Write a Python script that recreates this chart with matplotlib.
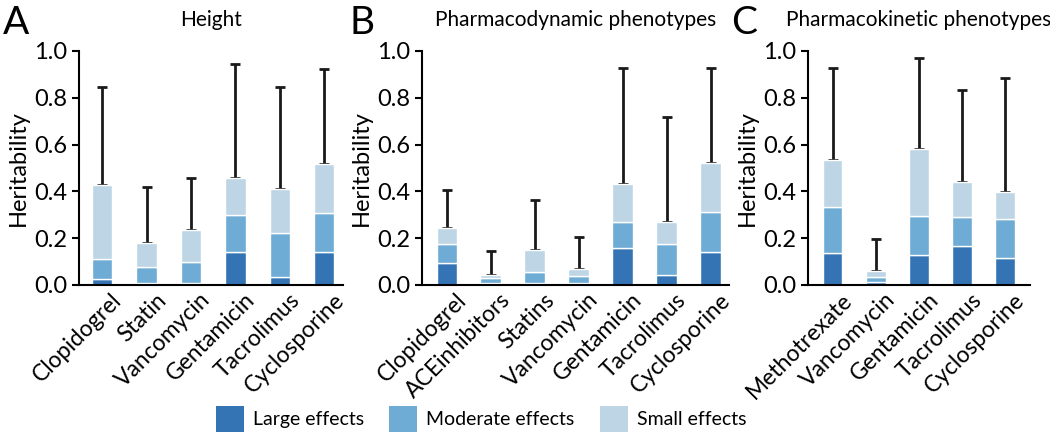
# Stacked heritability bars (large / moderate / small effects) for three panels.
import matplotlib.pyplot as plt
import matplotlib.transforms as mtransforms
from matplotlib.patches import Patch
import numpy as np

plt.rcParams['font.family'] = ['Lato', 'DejaVu Sans']

# Panel A: Height
drugs_a = ["Clopidogrel", "Statin", "Vancomycin", "Gentamicin", "Tacrolimus", "Cyclosporine"]
large_a = [0.024, 0.007, 0.007, 0.142, 0.036, 0.140]
moderate_a = [0.113, 0.078, 0.097, 0.299, 0.221, 0.308]   # cumulative top
small_a = [0.427, 0.178, 0.235, 0.459, 0.410, 0.517]      # cumulative top
upper_a = [0.848, 0.417, 0.456, 0.943, 0.846, 0.922]

# Panel B: Pharmacodynamic phenotypes
drugs_b = ["Clopidogrel", "ACEinhibitors", "Statins", "Vancomycin", "Gentamicin", "Tacrolimus", "Cyclosporine"]
large_b = [0.092, 0.010, 0.010, 0.010, 0.156, 0.041, 0.142]
moderate_b = [0.174, 0.028, 0.054, 0.038, 0.271, 0.177, 0.310]
small_b = [0.244, 0.043, 0.149, 0.070, 0.430, 0.271, 0.520]
upper_b = [0.406, 0.146, 0.362, 0.203, 0.926, 0.720, 0.927]

# Panel C: Pharmacokinetic phenotypes
drugs_c = ["Methotrexate", "Vancomycin", "Gentamicin", "Tacrolimus", "Cyclosporine"]
large_c = [0.135, 0.013, 0.128, 0.167, 0.114]
moderate_c = [0.335, 0.036, 0.293, 0.289, 0.281]
small_c = [0.534, 0.060, 0.583, 0.439, 0.397]
upper_c = [0.927, 0.195, 0.972, 0.835, 0.883]

col_large = "#3574b4"
col_mod = "#6eabd5"
col_small = "#bed5e6"

fig = plt.figure(figsize=(10.5, 4.43), dpi=100)

panels = [
    ("A", "Height", drugs_a, large_a, moderate_a, small_a, upper_a, [0.0752, 0.2514], (-0.52, 5.42), -0.29),
    ("B", "Pharmacodynamic phenotypes", drugs_b, large_b, moderate_b, small_b, upper_b, [0.4019, 0.2924], (-0.56, 6.42), -0.235),
    ("C", "Pharmacokinetic phenotypes", drugs_c, large_c, moderate_c, small_c, upper_c, [0.7695, 0.2114], (-0.57, 4.58), -0.345),
]

# nudge rotated tick labels a bit to the right, like the original
shift = mtransforms.ScaledTranslation(9 / 100, 0, fig.dpi_scale_trans)

for letter, title, drugs, large, mod, small, upper, (left, width), xlim, lx in panels:
    ax = fig.add_axes([left, 0.3567, width, 0.5282])
    x = np.arange(len(drugs))
    large = np.array(large)
    mod = np.array(mod)
    small = np.array(small)
    upper = np.array(upper)

    # error whisker, upper side only
    ax.errorbar(x, small, yerr=[np.zeros_like(small), upper - small], fmt="none",
                ecolor="#1a1a1a", elinewidth=2, capsize=3.5, capthick=2, zorder=1)

    ax.bar(x, large, width=0.46, color=col_large, edgecolor="white", linewidth=1, zorder=2)
    ax.bar(x, mod - large, bottom=large, width=0.46, color=col_mod, edgecolor="white", linewidth=1, zorder=2)
    ax.bar(x, small - mod, bottom=mod, width=0.46, color=col_small, edgecolor="white", linewidth=1, zorder=2)

    ax.set_xlim(*xlim)
    ax.set_ylim(0, 1.0)
    ax.set_yticks([0, 0.2, 0.4, 0.6, 0.8, 1.0])
    ax.set_yticklabels(["0.0", "0.2", "0.4", "0.6", "0.8", "1.0"])
    ax.set_xticks(x)
    ax.set_xticklabels(drugs, rotation=45, ha="right", rotation_mode="anchor")
    ax.tick_params(axis="x", length=0, labelsize=16.5, pad=3)
    ax.tick_params(axis="y", length=5, width=1.5, labelsize=17)
    for lab in ax.get_xticklabels():
        lab.set_transform(lab.get_transform() + shift)
    for s in ["top", "right"]:
        ax.spines[s].set_visible(False)
    for s in ["left", "bottom"]:
        ax.spines[s].set_linewidth(1.5)
    ax.set_ylabel("Heritability", fontsize=17, labelpad=4)
    ax.set_title(title, fontsize=15, pad=18)
    ax.text(lx, 1.12, letter, transform=ax.transAxes, fontsize=28, ha="left", va="center")

handles = [Patch(facecolor=col_large, label="Large effects"),
           Patch(facecolor=col_mod, label="Moderate effects"),
           Patch(facecolor=col_small, label="Small effects")]
fig.legend(handles=handles, loc="center", bbox_to_anchor=(0.458, 0.054), ncol=3,
           frameon=False, fontsize=14, handlelength=1.45, handleheight=1.65,
           columnspacing=1.3, handletextpad=0.45)

fig.savefig("out.png", dpi=100)
